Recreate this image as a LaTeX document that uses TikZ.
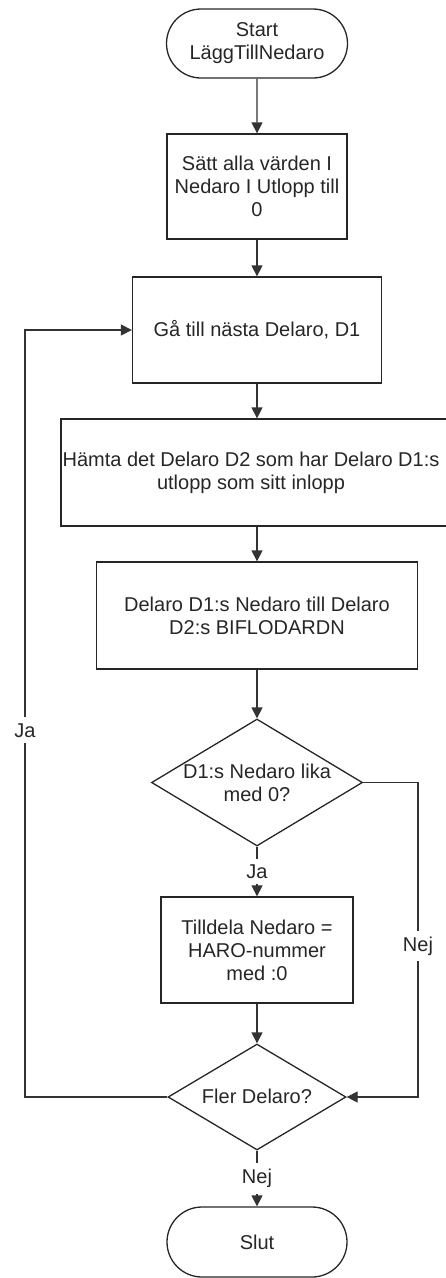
\documentclass[tikz,border=0pt]{standalone}
\usepackage{fontspec}
\setmainfont{Liberation Sans}
\usetikzlibrary{shapes.geometric,shapes.misc,arrows.meta}
\begin{document}
\begin{tikzpicture}[x=1pt,y=-1pt,
  every node/.style={font=\fontsize{20}{23}\selectfont, text=black!85},
  flow/.style={draw=black!85, line width=1.3pt},
  procbox/.style={flow, rectangle, inner sep=0pt, align=center},
  termbox/.style={flow, rounded rectangle, inner sep=0pt, align=center},
  decbox/.style={flow, diamond, inner sep=0pt},
  conn/.style={draw=black!80, line width=1.3pt, -{Triangle[length=11pt,width=11pt]}},
  edgelabel/.style={fill=white, inner xsep=1pt, inner ysep=6pt}
]
\useasboundingbox (0,0) rectangle (445,1278);

% process steps, top to bottom
\node[termbox, minimum width=181pt, minimum height=69pt] (start) at (257,43.5) {Start\\LäggTillNedaro};
\node[procbox, minimum width=180pt, minimum height=105pt] (b1) at (257,186.5) {Sätt alla värden I\\Nedaro I Utlopp till\\0};
\node[procbox, minimum width=249pt, minimum height=106pt] (b2) at (257,330) {Gå till nästa Delaro, D1};
% the wide step runs past the right edge of the sheet
\node[procbox, minimum width=409pt, minimum height=107pt] (b3) at (265.5,472.5) {};
\node[align=center] (b3text) at (251,473) {Hämta det Delaro D2 som har Delaro D1:s\\utlopp som sitt inlopp};
\node[procbox, minimum width=321pt, minimum height=107pt] (b4) at (257,615.5) {Delaro D1:s Nedaro till Delaro\\D2:s BIFLODARDN};
\node[decbox, minimum width=211pt, minimum height=127pt] (d1) at (257,782.5) {};
\node[align=center] (d1text) at (257,783) {D1:s Nedaro lika\\med 0?};
\node[procbox, minimum width=192pt, minimum height=106pt] (b5) at (257,950) {Tilldela Nedaro =\\HARO-nummer\\med :0};
\node[decbox, minimum width=178pt, minimum height=106pt] (d2) at (257,1097) {};
\node (d2text) at (257,1096) {Fler Delaro?};
\node[termbox, minimum width=180pt, minimum height=70pt] (stop) at (257,1242) {Slut};

% corners of the two side loops
\coordinate (rtop) at (418,782.5);
\coordinate (rbot) at (418,1097);
\coordinate (lbot) at (25,1097);
\coordinate (ltop) at (25,330);

% main flow
\draw[conn] (start) -- (b1);
\draw[conn] (b1) -- (b2);
\draw[conn] (b2.south) -- (b2.south |- b3.north);
\draw[conn] (b4.north |- b3.south) -- (b4.north);
\draw[conn] (b4) -- (d1);
\draw[conn] (d1) -- node[edgelabel] (ja1) {Ja} (b5);
\draw[conn] (b5) -- (d2);
\draw[conn] (d2) -- node[edgelabel] (nej2) {Nej} (stop);

% "Nej" bypass on the right
\draw[conn] (d1.east) -- (rtop) -- node[edgelabel, pos=0.52] (nej1) {Nej} (rbot) -- (d2.east);

% "Ja" loop back on the left
\draw[conn] (d2.west) -- (lbot) -- node[edgelabel, pos=0.478] (ja2) {Ja} (ltop) -- (b2.west);
\end{tikzpicture}
\end{document}
